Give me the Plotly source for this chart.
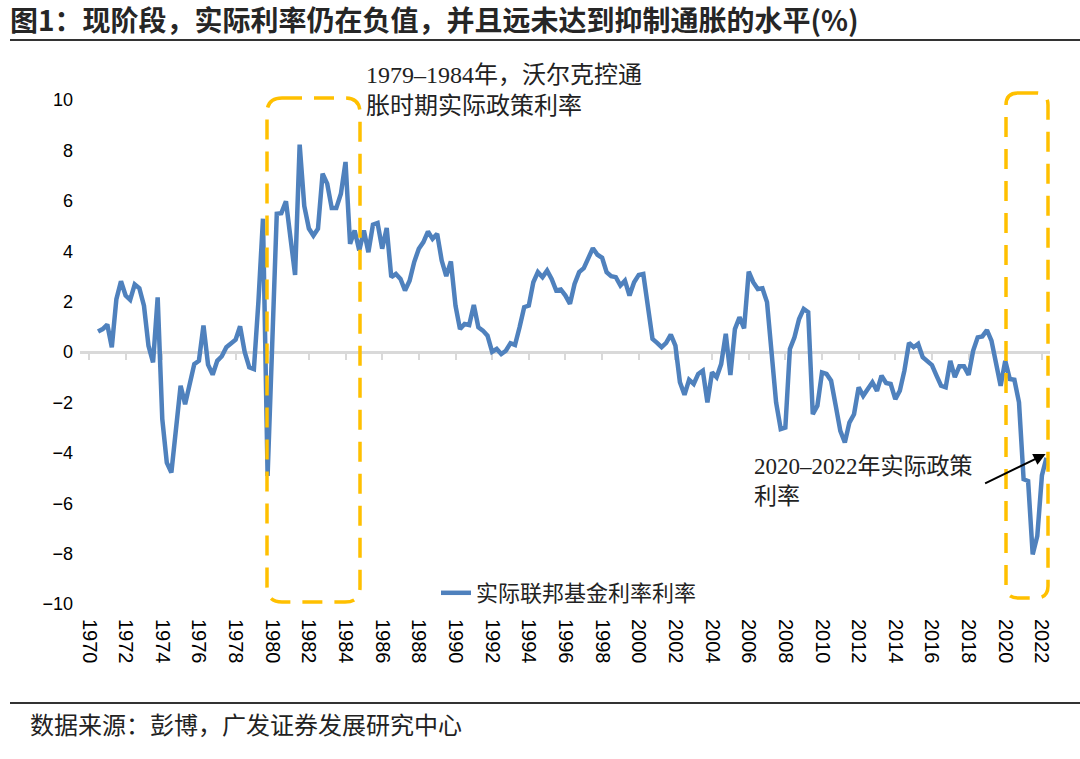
import pandas as pd
import plotly.graph_objects as go

# ---- data, quarterly from 1970Q2 ----
start_quarter = "1970Q2"
real_rate = [
    0.81, 0.91, 1.09,                 # 1970
    0.19, 2.10, 2.81, 2.24,           # 1971
    2.07, 2.68, 2.53, 1.84,           # 1972
    0.25, -0.41, 2.17, -2.66,         # 1973
    -4.39, -4.78, -3.06, -1.34,       # 1974
    -2.07, -1.20, -0.48, -0.35,       # 1975
    1.05, -0.50, -0.90, -0.35,        # 1976
    -0.17, 0.19, 0.36, 0.49,          # 1977
    1.02, 0.00, -0.61, -0.68,         # 1978
    2.00, 5.29, -4.92, 0.30,          # 1979
    5.49, 5.51, 5.98, 4.50,           # 1980
    3.06, 8.23, 5.80, 4.90,           # 1981
    4.62, 4.89, 7.08, 6.68,           # 1982
    5.71, 5.71, 6.28, 7.54,           # 1983
    4.29, 4.82, 4.03, 4.82,           # 1984
    3.96, 5.05, 5.12, 4.10,           # 1985
    4.92, 2.97, 3.10, 2.90,           # 1986
    2.44, 2.83, 3.57, 4.10,           # 1987
    4.36, 4.78, 4.49, 4.69,           # 1988
    3.63, 3.01, 3.59, 1.84,           # 1989
    0.91, 1.11, 1.07, 1.87,           # 1990
    0.98, 0.85, 0.65, 0.01,           # 1991
    0.12, -0.08, 0.05, 0.35,          # 1992
    0.28, 0.98, 1.78, 1.84,           # 1993
    2.77, 3.17, 2.97, 3.23,           # 1994
    2.90, 2.44, 2.48, 2.24,           # 1995
    1.91, 2.70, 3.17, 3.33,           # 1996
    3.77, 4.12, 3.86, 3.74,           # 1997
    3.17, 3.01, 2.97, 2.64,           # 1998
    2.83, 2.24, 2.77, 3.06,           # 1999
    3.10, 1.90, 0.52, 0.36,           # 2000
    0.19, 0.36, 0.69, 0.25,           # 2001
    -1.20, -1.70, -1.10, -1.27,       # 2002
    -0.87, -0.74, -2.00, -0.81,       # 2003
    -1.00, -0.48, 0.72, -0.91,        # 2004
    0.91, 1.38, 0.94, 3.19,           # 2005
    2.77, 2.50, 2.53, 1.98,           # 2006
    -0.28, -2.00, -3.06, -3.00,       # 2007
    0.12, 0.58, 1.31, 1.71,           # 2008
    1.58, -2.47, -2.13, -0.81,        # 2009
    -0.87, -1.14, -2.13, -3.13,       # 2010
    -3.59, -2.80, -2.47, -1.40,       # 2011
    -1.74, -1.47, -1.20, -1.54,       # 2012
    -0.94, -1.23, -1.27, -1.87,       # 2013
    -1.54, -0.74, 0.36, 0.19,         # 2014
    0.32, -0.21, -0.35, -0.52,        # 2015
    -0.94, -1.34, -1.40, -0.35,       # 2016
    -1.00, -0.57, -0.57, -0.91,       # 2017
    0.05, 0.58, 0.62, 0.87,           # 2018
    0.45, -0.48, -1.34, -0.35,        # 2019
    -1.07, -1.10, -2.00, -5.05,       # 2020
    -5.12, -8.03, -7.30, -4.90,       # 2021
    -4.20,                            # 2022
]
series_name = "实际联邦基金利率利率"
y_ticks = [-10, -8, -6, -4, -2, 0, 2, 4, 6, 8, 10]

quarters = pd.period_range(start_quarter, periods=len(real_rate), freq="Q")
dates = [p.end_time.strftime("%Y-%m-%d") for p in quarters]

# ---- layout geometry (pixels) ----
W, H = 1080, 759
L, R, T, B = 80, 30, 100, 155
PW, PH = W - L - R, H - T - B


def px_x(p):
    return (p - L) / PW


def px_y(p):
    return (H - B - p) / PH


BLUE = "#4F81BD"
ORANGE = "#FFC000"
SERIF = "Liberation Serif, Noto Sans CJK SC, serif"
X_RANGE = ["1969-07-05", "2022-06-10"]

fig = go.Figure()

# invisible trace to keep the label axis alive
fig.add_trace(go.Scatter(x=dates, y=real_rate, mode="lines", line=dict(width=0),
                         hoverinfo="skip", showlegend=False, xaxis="x"))
fig.add_trace(go.Scatter(
    x=dates, y=real_rate, mode="lines", name=series_name,
    line=dict(color=BLUE, width=4.5), xaxis="x2",
))


def rounded_box(x0, x1, ytop, ybot, r=15):
    a, b = px_x(x0), px_x(x1)
    t, u = px_y(ytop), px_y(ybot)
    rx, ry = r / PW, r / PH
    return (f"M {a+rx},{t} L {b-rx},{t} Q {b},{t} {b},{t-ry} "
            f"L {b},{u+ry} Q {b},{u} {b-rx},{u} L {a+rx},{u} "
            f"Q {a},{u} {a},{u+ry} L {a},{t-ry} Q {a},{t} {a+rx},{t} Z")


box_line = dict(color=ORANGE, width=3.5, dash="20px,12px")
shapes = [
    dict(type="path", xref="paper", yref="paper", path=rounded_box(267, 360, 98, 602),
         line=box_line),
    dict(type="path", xref="paper", yref="paper", path=rounded_box(1006, 1048, 93, 598, 12),
         line=box_line),
    dict(type="line", xref="paper", yref="paper", x0=px_x(10), x1=px_x(1080),
         y0=px_y(40), y1=px_y(40), line=dict(color="#333333", width=2)),
    dict(type="line", xref="paper", yref="paper", x0=px_x(10), x1=px_x(1080),
         y0=px_y(703), y1=px_y(703), line=dict(color="#333333", width=2)),
]

annotations = [
    dict(xref="paper", yref="paper", x=px_x(364), y=px_y(90), xanchor="left", yanchor="middle",
         align="left", showarrow=False,
         text="1979–1984年，沃尔克控通<br>胀时期实际政策利率",
         font=dict(family=SERIF, size=24, color="#222222")),
    dict(xref="paper", yref="paper", x=px_x(752), y=px_y(481), xanchor="left", yanchor="middle",
         align="left", showarrow=False,
         text="2020–2022年实际政策<br>利率",
         font=dict(family=SERIF, size=23, color="#222222")),
    dict(x="2022-03-15", y=-4.05, xref="x2", yref="y", text="", showarrow=True,
         arrowhead=2, arrowsize=1.2, arrowwidth=2, arrowcolor="black", ax=-62, ay=30),
    dict(xref="paper", yref="paper", x=px_x(28), y=px_y(726), xanchor="left", yanchor="middle",
         showarrow=False, text="数据来源：彭博，广发证券发展研究中心",
         font=dict(family=SERIF, size=24, color="#222222")),
]

fig.update_layout(
    width=W, height=H,
    margin=dict(l=L, r=R, t=T, b=B),
    paper_bgcolor="white", plot_bgcolor="white",
    title=dict(text="<b>图1：现阶段，实际利率仍在负值，并且远未达到抑制通胀的水平(%)</b>",
               x=10 / W, xanchor="left", xref="container", y=1 - 21 / H, yanchor="middle",
               font=dict(family="Noto Sans CJK SC", size=28, color="#262626")),
    xaxis=dict(type="date", range=X_RANGE, tick0="1970-01-01", dtick="M24", tickformat="%Y",
               tickangle=90, ticks="", showline=False, showgrid=False, zeroline=False,
               ticklabelstandoff=14,
               tickfont=dict(family="Liberation Sans, Arial", size=20, color="black")),
    xaxis2=dict(type="date", range=X_RANGE, overlaying="x", anchor="free", position=0.5,
                tick0="1970-01-01", dtick="M24", ticks="outside", ticklen=6, tickwidth=2,
                tickcolor="#d9d9d9", showline=True, linecolor="#d9d9d9", linewidth=2.5,
                showticklabels=False, showgrid=False, zeroline=False, layer="below traces"),
    yaxis=dict(range=[-10, 10], tickvals=y_ticks, showgrid=False, zeroline=False,
               showline=False, ticks="", ticklabelstandoff=6,
               tickfont=dict(family="Liberation Sans, Arial", size=18, color="black")),
    legend=dict(x=px_x(436), y=px_y(593), xanchor="left", yanchor="middle",
                bgcolor="rgba(0,0,0,0)", font=dict(family=SERIF, size=22, color="#222222")),
    shapes=shapes,
    annotations=annotations,
    showlegend=True,
)

# drop the browser's default 8px page margin so the figure sits at the top-left corner
fig.write_html("out.html", config={"displayModeBar": False},
               post_script="document.body.style.margin='0';")
